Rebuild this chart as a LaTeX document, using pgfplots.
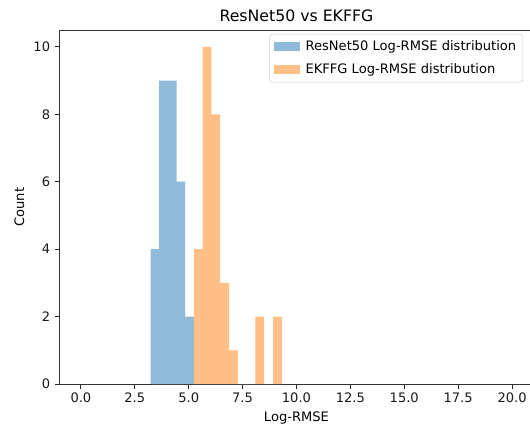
\documentclass[border=0pt]{standalone}
\usepackage{pgfplots}
\pgfplotsset{compat=1.18}
\usepackage{fontspec}
\setmainfont{DejaVu Sans}
\definecolor{mblue}{RGB}{143,187,217}
\definecolor{morange}{RGB}{255,191,134}
\begin{document}
\begin{tikzpicture}[x=1pt,y=1pt]
\begin{axis}[
  at={(0,0)}, anchor=south west,
  scale only axis,
  width=355.7pt, height=265.5pt,
  xmin=-1, xmax=21, ymin=0, ymax=10.5,
  xtick={0,2.5,...,20},
  ytick={0,2,4,6,8,10},
  xticklabel style={/pgf/number format/.cd, fixed, fixed zerofill, precision=1},
  /pgf/number format/assume math mode=true,
  tick align=outside, tick pos=left,
  major tick length=3.4pt,
  tick style={black!85, line width=0.7pt},
  axis line style={black!80, line width=0.7pt},
  ticklabel style={font=\fontsize{9.8}{11.5}\selectfont, text=black!90},
  xlabel={Log-RMSE}, ylabel={Count},
  label style={font=\fontsize{9.8}{11.5}\selectfont},
  title={ResNet50 vs EKFFG},
  title style={font=\fontsize{11.8}{14}\selectfont, yshift=-3pt},
  legend style={at={(0.978,0.989)}, anchor=north east, draw=black!20, rounded corners=2pt,
    font=\fontsize{9.8}{11.5}\selectfont, inner xsep=3pt, inner ysep=3pt, row sep=4pt,
    /tikz/every even column/.append style={column sep=0pt}},
  legend cell align=left,
]
\addplot[ybar interval, fill=mblue, draw=none,
  legend image code/.code={\fill[mblue, sharp corners] (0pt,-3.5pt) rectangle (19.5pt,3.5pt); \path (22pt,0pt);}] coordinates {
(3.23,4) (3.63,9) (4.04,9) (4.44,6) (4.84,2) (5.24,2)};
\addlegendentry{ResNet50 Log-RMSE distribution}
\addplot[ybar interval, fill=morange, draw=none,
  legend image code/.code={\fill[morange, sharp corners] (0pt,-3.5pt) rectangle (19.5pt,3.5pt); \path (22pt,0pt);}] coordinates {
(5.24,4) (5.648,10) (6.056,8) (6.464,3) (6.872,1) (7.28,0) (7.688,0) (8.096,2) (8.504,0) (8.912,2) (9.32,2)};
\addlegendentry{EKFFG Log-RMSE distribution}
\end{axis}
\pgfresetboundingbox
\path (-44.5pt,-30.75pt) rectangle (353pt,288pt);
\end{tikzpicture}
\end{document}
